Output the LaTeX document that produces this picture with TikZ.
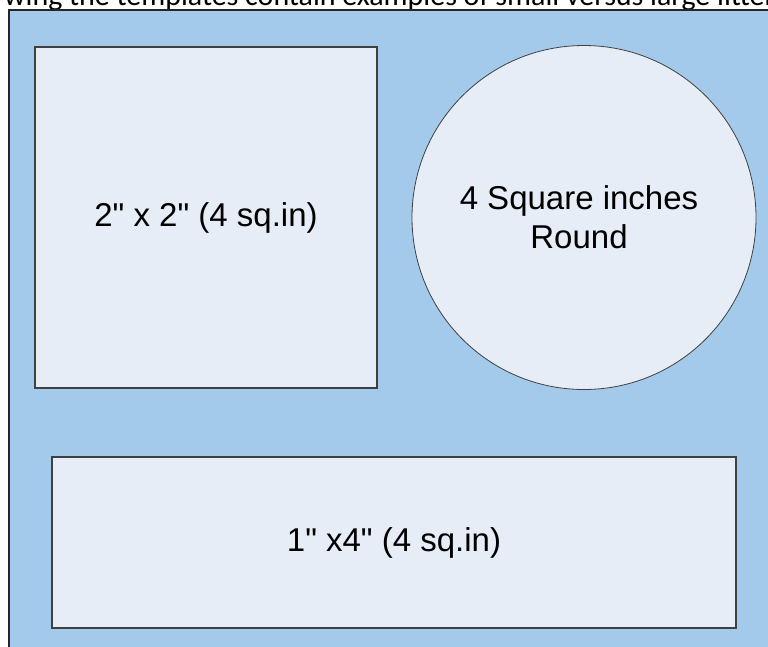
\documentclass[tikz,border=0pt]{standalone}
\usepackage{fontspec}
\setmainfont{Liberation Sans}
\newfontfamily\notefont{Carlito}
\usetikzlibrary{positioning}
\definecolor{panelblue}{HTML}{A3C9EB}
\definecolor{tilefill}{HTML}{E6EDF7}
\newcommand{\inch}{\textquotedbl{}}

\begin{document}
\begin{tikzpicture}[
    x=1pt, y=-1pt,
    every node/.style={font=\fontsize{33}{39}\selectfont},
    panel/.style={draw=black!85, line width=1.5pt, fill=panelblue},
    tile/.style={draw=black!75, line width=1.2pt, fill=tilefill, inner sep=0pt, align=center},
    note/.style={font=\notefont\fontsize{30}{34}\selectfont, anchor=base west, inner sep=0pt}
]
\useasboundingbox (0,0) rectangle (768,646);
\node[note] (caption) at (4,5) {wing the templates contain examples of small versus large litter};
\draw[panel] (9,10) rectangle (790,670);
\node[tile, minimum width=342, minimum height=341] (square) at (206,217.5) {2\inch{} x 2\inch{} (4 sq.in)};
\node[tile, circle, minimum size=344, line width=0.8pt, right=34pt of square] (round) {};
\node[align=center] (roundtext) at ([xshift=-5pt]round.center) {4 Square inches\\Round};
\node[tile, minimum width=684, minimum height=171] (strip) at (394,542.5) {1\inch{} x4\inch{} (4 sq.in)};
\end{tikzpicture}
\end{document}
